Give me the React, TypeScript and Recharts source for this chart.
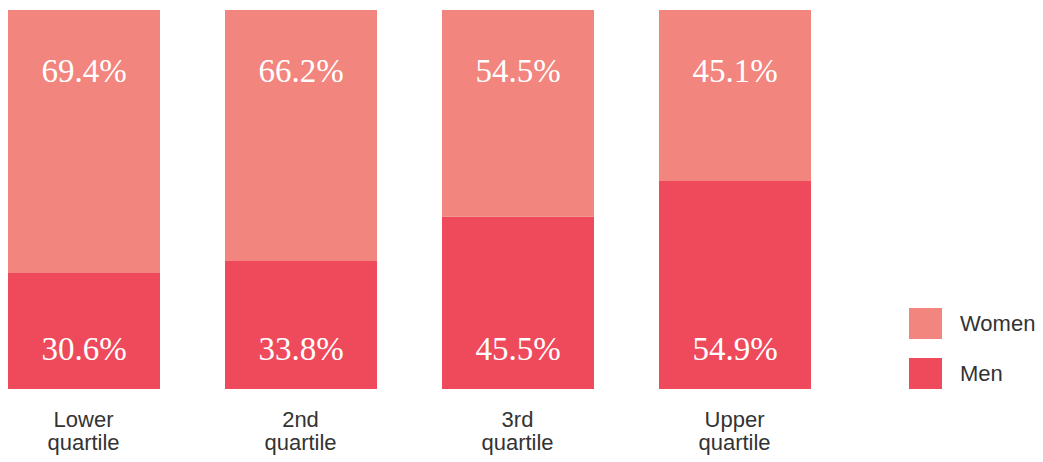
import React from "react";
import { BarChart, Bar, XAxis, YAxis, LabelList } from "recharts";

const categories = ["Lower quartile", "2nd quartile", "3rd quartile", "Upper quartile"];
const categoryLines = [
  ["Lower", "quartile"],
  ["2nd", "quartile"],
  ["3rd", "quartile"],
  ["Upper", "quartile"],
];
const men = [30.6, 33.8, 45.5, 54.9];
const women = [69.4, 66.2, 54.5, 45.1];
const seriesNames = ["Women", "Men"];
const seriesColors = ["#F2857E", "#EF4A5B"];

const data = categories.map((c, i) => ({ name: c, idx: i, Men: men[i], Women: women[i] }));

const SERIF = "'Liberation Serif', 'Times New Roman', serif";
const SANS = "'Liberation Sans', Arial, Helvetica, sans-serif";

const fmt = (v: number) => `${v.toFixed(1)}%`;

const WomenLabel = (props: any) => {
  const { x, y, width, value } = props;
  return (
    <text x={x + width / 2} y={y + 72} textAnchor="middle" fill="#ffffff" fontFamily={SERIF} fontSize={33}>
      {fmt(value)}
    </text>
  );
};

const MenLabel = (props: any) => {
  const { x, y, width, height, value } = props;
  return (
    <text x={x + width / 2} y={y + height - 29} textAnchor="middle" fill="#ffffff" fontFamily={SERIF} fontSize={33}>
      {fmt(value)}
    </text>
  );
};

const CatTick = (props: any) => {
  const { x, y, payload } = props;
  const lines = categoryLines[categories.indexOf(payload.value)] || [payload.value];
  return (
    <g>
      {lines.map((l: string, i: number) => (
        <text key={i} x={x} y={y + 38 + i * 23} textAnchor="middle" fill="#333333" fontFamily={SANS} fontSize={22}>
          {l}
        </text>
      ))}
    </g>
  );
};

export default function App() {
  return (
    <div style={{ position: "absolute", left: 0, top: 0, width: 1043, height: 462, background: "#fff", overflow: "hidden" }}>
      <div style={{ position: "absolute", left: -25, top: 0 }}>
        <BarChart width={1068} height={462} data={data} margin={{ top: 10, right: 200, bottom: 13, left: 0 }}>
          <XAxis dataKey="name" axisLine={false} tickLine={false} tickSize={0} tickMargin={0} height={60} interval={0} tick={<CatTick />} />
          <YAxis hide domain={[0, 100]} />
          <Bar dataKey="Men" stackId="a" fill={seriesColors[1]} barSize={152} isAnimationActive={false}>
            <LabelList dataKey="Men" content={<MenLabel />} />
          </Bar>
          <Bar dataKey="Women" stackId="a" fill={seriesColors[0]} barSize={152} isAnimationActive={false}>
            <LabelList dataKey="Women" content={<WomenLabel />} />
          </Bar>
        </BarChart>
      </div>
      <div style={{ position: "absolute", left: 909, top: 308, fontFamily: SANS, fontSize: 22, color: "#333" }}>
        {seriesNames.map((n, i) => (
          <div key={n} style={{ display: "flex", alignItems: "center", height: 31, marginBottom: 19 }}>
            <div style={{ width: 33, height: 31, background: seriesColors[i] }} />
            <span style={{ marginLeft: 18 }}>{n}</span>
          </div>
        ))}
      </div>
    </div>
  );
}
